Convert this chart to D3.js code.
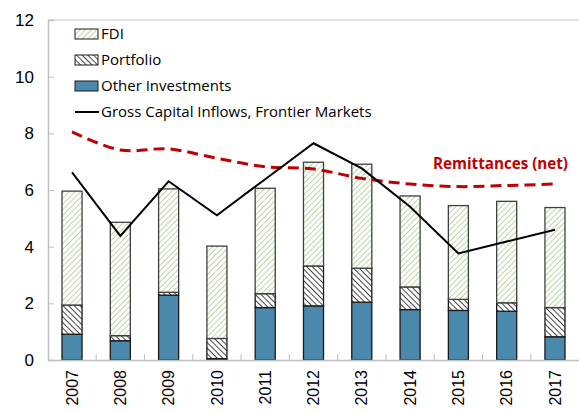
<!DOCTYPE html>
<html>
<head>
<meta charset="utf-8">
<script src="https://cdn.jsdelivr.net/npm/d3@7"></script>
<style>
  html, body { margin: 0; padding: 0; background: #fff; }
  svg { display: block; }
</style>
</head>
<body>
<div id="capital-flows-viz"></div>
<script>
const years = ['2007', '2008', '2009', '2010', '2011', '2012', '2013', '2014', '2015', '2016', '2017'];
const otherInvestments = [0.91, 0.68, 2.29, 0.05, 1.85, 1.91, 2.04, 1.78, 1.75, 1.72, 0.82];
const portfolio = [1.03, 0.18, 0.10, 0.71, 0.49, 1.41, 1.20, 0.80, 0.39, 0.30, 1.03];
const fdi = [4.02, 4.00, 3.65, 3.26, 3.72, 3.66, 3.67, 3.21, 3.31, 3.58, 3.53];
const grossInflows = [6.62, 4.38, 6.31, 5.11, 6.38, 7.65, 6.76, 5.41, 3.76, 4.18, 4.60];
const remittances = [8.05, 7.41, 7.45, 7.12, 6.82, 6.74, 6.41, 6.21, 6.12, 6.16, 6.21];
const yTicks = [0, 2, 4, 6, 8, 10, 12];

const drawChart = (vizElement) => {
  const totalWidth = 579;
  const totalHeight = 413;
  const margin = { top: 20, right: 0, bottom: 53, left: 48 };
  const width = totalWidth - margin.left - margin.right;
  const height = totalHeight - margin.top - margin.bottom;

  const svg = d3
    .select(`#${vizElement}`)
    .append('svg')
    .attr('width', totalWidth)
    .attr('height', totalHeight);

  // hatch patterns
  const defs = svg.append('defs');
  const fdiPattern = defs
    .append('pattern')
    .attr('id', 'fdi-hatch')
    .attr('patternUnits', 'userSpaceOnUse')
    .attr('width', 4)
    .attr('height', 4)
    .attr('patternTransform', 'rotate(45)');
  fdiPattern.append('rect').attr('width', 4).attr('height', 4).attr('fill', '#fff');
  fdiPattern
    .append('line')
    .attr('x1', 0).attr('y1', 0).attr('x2', 0).attr('y2', 4)
    .attr('stroke', '#a9cf8e')
    .attr('stroke-width', 1.6);

  const portPattern = defs
    .append('pattern')
    .attr('id', 'port-hatch')
    .attr('patternUnits', 'userSpaceOnUse')
    .attr('width', 4)
    .attr('height', 4)
    .attr('patternTransform', 'rotate(-45)');
  portPattern.append('rect').attr('width', 4).attr('height', 4).attr('fill', '#fff');
  portPattern
    .append('line')
    .attr('x1', 0).attr('y1', 0).attr('x2', 0).attr('y2', 4)
    .attr('stroke', '#333')
    .attr('stroke-width', 1.8);

  const g = svg.append('g').attr('transform', `translate(${margin.left}, ${margin.top})`);

  const xScale = d3.scaleBand().domain(years).range([0, width]).paddingInner(0.585).paddingOuter(0.29);
  const yScale = d3.scaleLinear().domain([0, 12]).range([height, 0]);

  // top border line
  g.append('line')
    .attr('x1', 0).attr('x2', width)
    .attr('y1', yScale(12)).attr('y2', yScale(12))
    .attr('stroke', '#d9d9d9')
    .attr('stroke-width', 1.5);

  // stacked bars
  const layers = [
    { key: 'other', values: otherInvestments, fill: '#4a89ac' },
    { key: 'portfolio', values: portfolio, fill: 'url(#port-hatch)' },
    { key: 'fdi', values: fdi, fill: 'url(#fdi-hatch)' },
  ];
  const stackRows = years.map((year, i) => ({
    year,
    other: otherInvestments[i],
    portfolio: portfolio[i],
    fdi: fdi[i],
  }));
  const stacked = d3.stack().keys(layers.map((l) => l.key))(stackRows);

  stacked.forEach((series, li) => {
    g.append('g')
      .selectAll('rect')
      .data(series)
      .join('rect')
      .attr('x', (d) => xScale(d.data.year))
      .attr('y', (d) => yScale(d[1]))
      .attr('width', xScale.bandwidth())
      .attr('height', (d) => yScale(d[0]) - yScale(d[1]))
      .attr('fill', layers[li].fill)
      .attr('stroke', li === 2 ? '#404040' : '#1a1a1a')
      .attr('stroke-width', 1.3);
  });

  // y axis
  const yAxis = g
    .append('g')
    .call(d3.axisLeft(yScale).tickValues(yTicks).tickSize(-6).tickPadding(14).tickFormat(d3.format('d')));
  yAxis.select('.domain').attr('stroke', '#bfbfbf').attr('stroke-width', 1.5);
  yAxis.selectAll('.tick line').attr('stroke', '#bfbfbf');
  yAxis.selectAll('text')
    .attr('font-family', 'Liberation Sans, Arial, sans-serif')
    .attr('font-size', 17)
    .attr('fill', '#000');

  // x axis
  const xAxis = g
    .append('g')
    .attr('transform', `translate(0, ${height})`)
    .call(d3.axisBottom(xScale).tickSize(0).tickPadding(10));
  xAxis.select('.domain').attr('stroke', '#bfbfbf').attr('stroke-width', 1.5);
  xAxis.selectAll('text')
    .attr('font-family', 'Liberation Sans, Arial, sans-serif')
    .attr('font-size', 16)
    .attr('fill', '#000')
    .attr('transform', 'rotate(-90)')
    .attr('x', -10)
    .attr('y', 0)
    .attr('dy', '0.35em')
    .style('text-anchor', 'end');

  // category divider ticks (inside)
  const step = xScale.step();
  g.append('g')
    .selectAll('line')
    .data(years.slice(1))
    .join('line')
    .attr('x1', (d) => xScale(d) + xScale.bandwidth() / 2 - step / 2)
    .attr('x2', (d) => xScale(d) + xScale.bandwidth() / 2 - step / 2)
    .attr('y1', height)
    .attr('y2', height - 6)
    .attr('stroke', '#bfbfbf');

  const centerX = (i) => xScale(years[i]) + xScale.bandwidth() / 2;

  // remittances dashed line
  g.append('path')
    .datum(remittances)
    .attr('fill', 'none')
    .attr('stroke', '#c00000')
    .attr('stroke-width', 3)
    .attr('stroke-dasharray', '11,6')
    .attr('d', d3.line().x((d, i) => centerX(i)).y((d) => yScale(d)).curve(d3.curveCatmullRom));

  // gross capital inflows line
  g.append('path')
    .datum(grossInflows)
    .attr('fill', 'none')
    .attr('stroke', '#000')
    .attr('stroke-width', 2)
    .attr('d', d3.line().x((d, i) => centerX(i)).y((d) => yScale(d)));

  // remittances label
  svg.append('text')
    .attr('x', 433)
    .attr('y', 169)
    .attr('font-family', 'Open Sans, sans-serif')
    .attr('font-weight', 'bold')
    .attr('font-size', 15.2)
    .attr('fill', '#c00000')
    .text('Remittances (net)');

  // legend
  const legendItems = [
    { label: 'FDI', fill: 'url(#fdi-hatch)', type: 'box' },
    { label: 'Portfolio', fill: 'url(#port-hatch)', type: 'box' },
    { label: 'Other Investments', fill: '#4a89ac', type: 'box' },
    { label: 'Gross Capital Inflows, Frontier Markets', type: 'line' },
  ];
  const legend = svg
    .append('g')
    .selectAll('g')
    .data(legendItems)
    .join('g')
    .attr('transform', (d, i) => `translate(75, ${34 + i * 26})`);
  legend.filter((d) => d.type === 'box')
    .append('rect')
    .attr('x', 0).attr('y', -5)
    .attr('width', 23).attr('height', 10)
    .attr('fill', (d) => d.fill)
    .attr('stroke', '#1a1a1a')
    .attr('stroke-width', 1);
  legend.filter((d) => d.type === 'line')
    .append('line')
    .attr('x1', 0).attr('x2', 24)
    .attr('y1', 0).attr('y2', 0)
    .attr('stroke', '#000')
    .attr('stroke-width', 2);
  legend.append('text')
    .attr('x', 26)
    .attr('y', 0)
    .attr('dy', '0.35em')
    .attr('font-family', 'Open Sans, sans-serif')
    .attr('font-size', 15)
    .attr('fill', '#000')
    .text((d) => d.label);
};

drawChart('capital-flows-viz');
</script>
</body>
</html>
